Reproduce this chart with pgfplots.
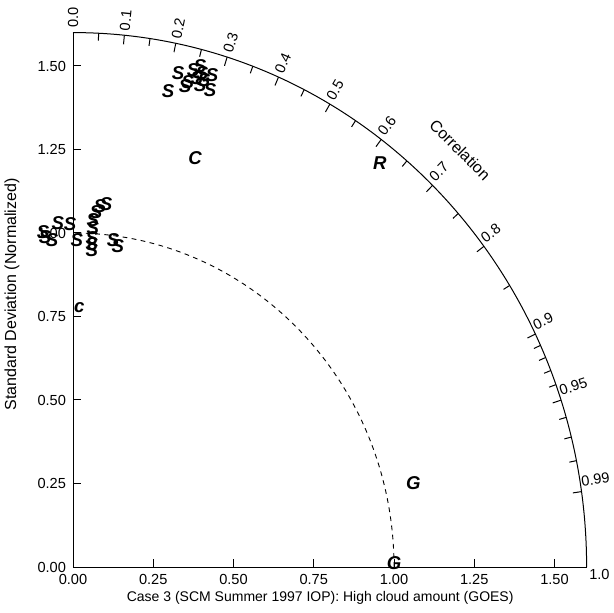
\documentclass[border=0pt]{standalone}
\usepackage{fontspec}
\setmainfont{Liberation Sans}
\usepackage{pgfplots}
\pgfplotsset{compat=1.18}
\newcommand\tf{\fontsize{7.3}{8.5}\selectfont}
\newcommand\mf{\fontsize{9.3}{10}\selectfont\bfseries\itshape}
\begin{document}
\begin{tikzpicture}
\useasboundingbox (-36.5pt,-23pt) rectangle (270pt,283.5pt);
\begin{axis}[
  x=160.5pt, y=167pt,
  xmin=0, xmax=1.6, ymin=0, ymax=1.6,
  axis x line*=bottom, axis y line*=left,
  axis line style={line width=0.5pt,-},
  clip=false,
  xtick={0,0.25,0.5,0.75,1,1.25,1.5},
  ytick={0,0.25,0.5,0.75,1,1.25,1.5},
  xticklabels={0.00,0.25,0.50,0.75,1.00,1.25,1.50},
  yticklabels={0.00,0.25,0.50,0.75,1.00,1.25,1.50},
  tick align=inside,
  major tick length=4pt,
  tick style={black, line width=0.5pt},
  tick label style={font=\tf},
  ylabel={Standard Deviation (Normalized)},
  ylabel style={font=\fontsize{8}{9}\selectfont, at={(axis description cs:-0.119,0.51)}, anchor=center},
]
% outer arc (correlation axis)
\draw[line width=0.5pt] (axis cs:1.6,0) arc[start angle=0, end angle=90, x radius=256.8pt, y radius=267.2pt];
% reference std dev = 1 arc
\draw[line width=0.45pt, dash pattern=on 2.4pt off 2.2pt] (axis cs:1,0) arc[start angle=0, end angle=90, x radius=160.5pt, y radius=167pt];
% major correlation ticks and labels
\pgfplotsinvokeforeach{0.0,0.1,0.2,0.3,0.4,0.5,0.6,0.7,0.8,0.9,0.95,0.99}{
  \draw[line width=0.5pt] (axis cs:{1.6*#1},{1.6*sin(acos(#1))}) -- (axis cs:{1.573*#1},{1.573*sin(acos(#1))});
  \node[font=\tf, rotate={acos(#1)}, anchor=west, inner sep=0pt] at (axis cs:{(1.613-0.011*#1^4)*#1-0.03*#1^2*sin(acos(#1))},{(1.613-0.011*#1^4)*sin(acos(#1))+0.03*#1^3}) {#1};
}
\node[font=\tf, anchor=west, inner sep=0pt] at (axis cs:1.607,-0.022) {1.0};
% minor correlation ticks
\pgfplotsinvokeforeach{0.05,0.15,0.25,0.35,0.45,0.55,0.65,0.75,0.85,0.91,0.92,0.93,0.94,0.96,0.97,0.98}{
  \draw[line width=0.5pt] (axis cs:{1.6*#1},{1.6*sin(acos(#1))}) -- (axis cs:{1.578*#1},{1.578*sin(acos(#1))});
}
\node[font=\fontsize{8}{9}\selectfont, rotate=-45] at (axis cs:1.206,1.249) {Correlation};
\node[font=\fontsize{7}{8}\selectfont] at (axis cs:0.77,-0.092) {Case 3 (SCM Summer 1997 IOP): High cloud amount (GOES)};
% model markers
\addplot[only marks, mark=text, text mark={\mf S}] coordinates {
 (0.327,1.479) (0.374,1.488) (0.396,1.500) (0.433,1.473) (0.427,1.428)
 (0.296,1.425) (0.396,1.443) (0.358,1.452) (0.386,1.464) (0.408,1.458)
 (0.349,1.440) (0.402,1.479)
 (-0.093,1.003) (-0.087,0.988) (-0.065,0.979) (-0.047,1.030) (-0.009,1.027)
 (0.012,0.979)
 (0.084,1.081) (0.103,1.087) (0.072,1.063) (0.062,1.039) (0.062,1.015)
 (0.059,0.985) (0.059,0.967) (0.059,0.949)
 (0.125,0.979) (0.140,0.960)
};
\addplot[only marks, mark=text, text mark={\mf C}] coordinates {(0.380,1.225)};
\addplot[only marks, mark=text, text mark={\mf R}] coordinates {(0.956,1.210)};
\addplot[only marks, mark=text, text mark={\mf G}] coordinates {(1.060,0.250) (1.000,0.012)};
\addplot[only marks, mark=text, text mark={\mf c}] coordinates {(0.020,0.778)};
\end{axis}
\end{tikzpicture}
\end{document}
